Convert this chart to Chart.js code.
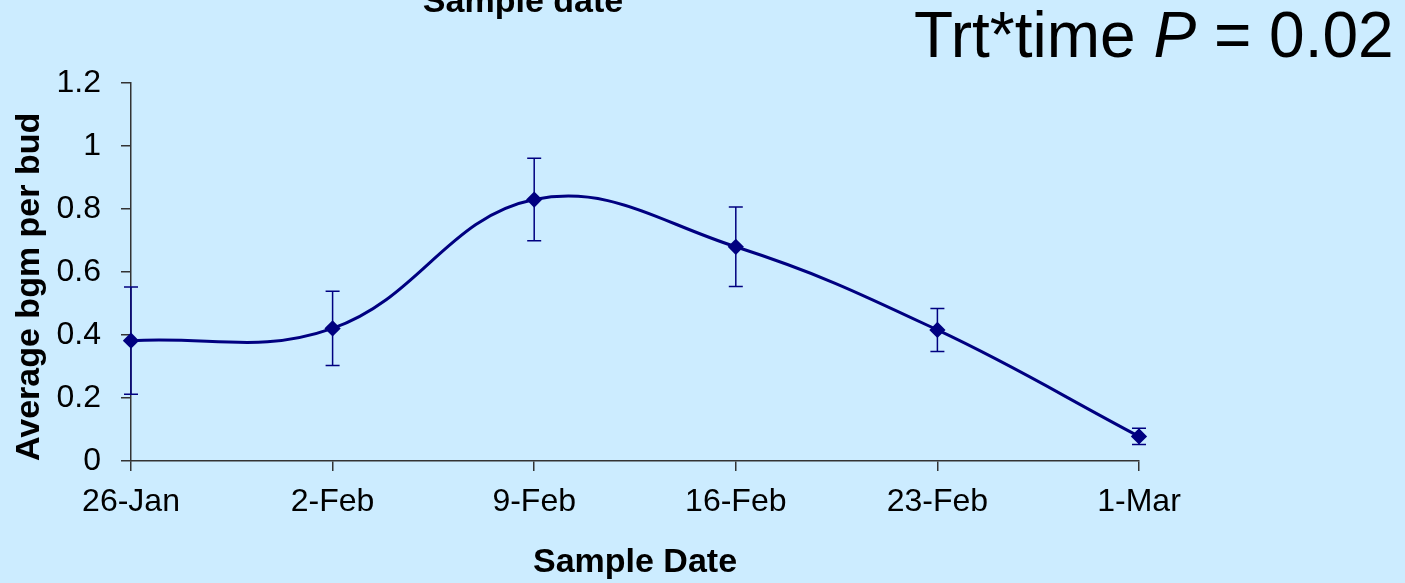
<!DOCTYPE html>
<html>
<head>
<meta charset="utf-8">
<script src="https://cdn.jsdelivr.net/npm/chart.js@4"></script>
<style>
  html, body { margin: 0; padding: 0; background: #CCECFF; }
  #wrap { width: 1405px; height: 583px; position: relative; }
</style>
</head>
<body>
<div id="wrap"><canvas id="bgmChart" width="1405" height="583"></canvas></div>
<script>
const dates = ['26-Jan', '2-Feb', '9-Feb', '16-Feb', '23-Feb', '1-Mar'];
const bgmPerBud = [0.382, 0.421, 0.830, 0.680, 0.416, 0.078];
const bgmSE = [0.170, 0.118, 0.131, 0.126, 0.068, 0.026];
const yTicks = [0, 0.2, 0.4, 0.6, 0.8, 1, 1.2];

const navy = '#000080';
const font = '"Liberation Sans", Arial, sans-serif';

// error bars, drawn under the markers
const errorBars = {
  id: 'errorBars',
  beforeDatasetsDraw(chart) {
    const ctx = chart.ctx;
    const x = chart.scales.x, y = chart.scales.y;
    ctx.save();
    ctx.strokeStyle = navy;
    ctx.lineWidth = 1.5;
    bgmPerBud.forEach((v, i) => {
      const px = x.getPixelForValue(i);
      const top = y.getPixelForValue(v + bgmSE[i]);
      const bot = y.getPixelForValue(v - bgmSE[i]);
      ctx.beginPath();
      ctx.moveTo(px, top); ctx.lineTo(px, bot);
      ctx.moveTo(px - 7, top); ctx.lineTo(px + 7, top);
      ctx.moveTo(px - 7, bot); ctx.lineTo(px + 7, bot);
      ctx.stroke();
    });
    ctx.restore();
  }
};

// the extra texts on the slide
const slideText = {
  id: 'slideText',
  afterDraw(chart) {
    const ctx = chart.ctx;
    ctx.save();
    ctx.fillStyle = '#000';
    ctx.textBaseline = 'alphabetic';
    ctx.textAlign = 'center';
    ctx.font = 'bold 34px ' + font;
    ctx.fillText('Sample date', 523, 12);

    ctx.textAlign = 'left';
    ctx.font = '64px ' + font;
    let tx = 914;
    ctx.fillText('Trt*time ', tx, 57);
    tx += ctx.measureText('Trt*time ').width;
    ctx.font = 'italic 64px ' + font;
    ctx.fillText('P', tx, 57);
    tx += ctx.measureText('P').width;
    ctx.font = '64px ' + font;
    ctx.fillText(' = 0.02', tx, 57);
    ctx.restore();
  }
};

let data = {
  labels: dates,
  datasets: [{
    data: bgmPerBud,
    borderColor: navy,
    backgroundColor: navy,
    borderWidth: 3,
    tension: 0.4,
    pointStyle: 'rectRot',
    pointRadius: 6,
    pointHoverRadius: 6,
    pointBackgroundColor: navy,
    pointBorderColor: navy
  }]
};

let options = {
  responsive: false,
  animation: false,
  layout: { padding: { left: 0, top: 83, right: 266, bottom: 0 } },
  plugins: {
    legend: { display: false },
    tooltip: { enabled: false }
  },
  scales: {
    x: {
      offset: false,
      grid: { drawOnChartArea: false, color: '#333', lineWidth: 1.5, tickLength: 10 },
      border: { color: '#333', width: 1.5 },
      ticks: {
        color: '#000',
        padding: 12,
        maxRotation: 0,
        font: { family: font, size: 32 }
      },
      title: {
        display: true,
        text: 'Sample Date',
        color: '#000',
        padding: { top: 0, bottom: 0 },
        font: { family: font, size: 34, weight: 'bold' }
      },
      afterFit(scale) { scale.height = 122; }
    },
    y: {
      min: 0,
      max: 1.2,
      afterBuildTicks(scale) { scale.ticks = yTicks.map(v => ({ value: v })); },
      grid: { drawOnChartArea: false, color: '#333', lineWidth: 1.5, tickLength: 10 },
      border: { color: '#333', width: 1.5 },
      ticks: {
        color: '#000',
        padding: 20,
        callback: v => String(+v.toFixed(1)),
        font: { family: font, size: 32 }
      },
      title: {
        display: true,
        text: 'Average bgm per bud',
        align: 'start',
        color: '#000',
        padding: { top: 9, bottom: 10 },
        font: { family: font, size: 34, weight: 'bold' }
      },
      afterFit(scale) { scale.width = 131; }
    }
  }
};

new Chart(document.getElementById('bgmChart'), {
  type: 'line',
  data: data,
  options: options,
  plugins: [errorBars, slideText]
});
</script>
</body>
</html>
